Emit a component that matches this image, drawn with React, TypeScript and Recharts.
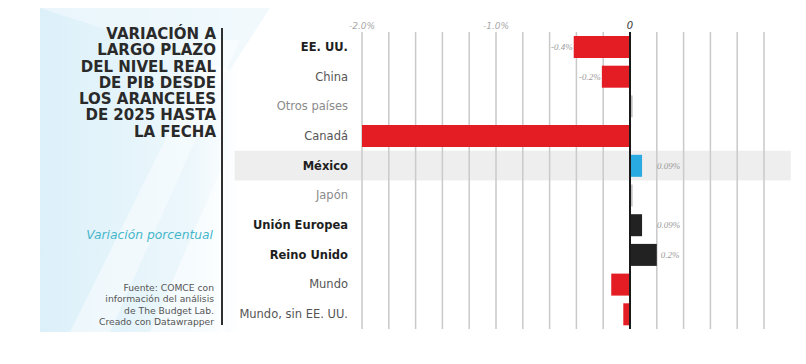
import React from 'react';
import { BarChart, Bar, XAxis, YAxis, CartesianGrid, ReferenceLine, ReferenceArea, Cell, LabelList } from 'recharts';

const categories = ['EE. UU.', 'China', 'Otros países', 'Canadá', 'México', 'Japón', 'Unión Europea', 'Reino Unido', 'Mundo', 'Mundo, sin EE. UU.'];
const values = [-0.42, -0.21, 0.02, -2.0, 0.09, 0.02, 0.09, 0.2, -0.14, -0.05];
const valueLabels = ['-0.4%', '-0.2%', '', '', '0.09%', '', '0.09%', '0.2%', '', ''];
const barColors = ['#e41c24', '#e41c24', '#c4c4c4', '#e41c24', '#29abe2', '#c4c4c4', '#222222', '#222222', '#e41c24', '#e41c24'];
const boldCategories = ['EE. UU.', 'México', 'Unión Europea', 'Reino Unido'];
const mutedCategories = ['Otros países', 'Japón'];
const highlightCategory = 'México';
const gridTicks = [-2, -1.8, -1.6, -1.4, -1.2, -1, -0.8, -0.6, -0.4, -0.2, 0, 0.2, 0.4, 0.6, 0.8, 1];
const labeledTicks = [-2, -1, 0];
const labeledTickText = ['-2.0%', '-1.0%', '0'];

const titleLines = ['VARIACIÓN A', 'LARGO PLAZO', 'DEL NIVEL REAL', 'DE PIB DESDE', 'LOS ARANCELES', 'DE 2025 HASTA', 'LA FECHA'];
const subtitle = 'Variación porcentual';
const sourceLines = ['Fuente: COMCE con', 'información del análisis', 'de The Budget Lab.', 'Creado con Datawrapper'];

const data = categories.map((c, i) => ({ name: c, value: values[i], label: valueLabels[i] }));

const FONT = '"DejaVu Sans", sans-serif';

const YTick = (props: any) => {
  const { x, y, payload } = props;
  const name = payload.value as string;
  const bold = boldCategories.includes(name);
  const muted = mutedCategories.includes(name);
  return (
    <text x={x} y={y} textAnchor="end" dominantBaseline="central" fontFamily={FONT} fontSize={11.5}
      fontWeight={bold ? 700 : 400} fill={bold ? '#1e1e1e' : muted ? '#8a8a8a' : '#555555'}>
      {name}
    </text>
  );
};

const XTick = (props: any) => {
  const { x, y, payload } = props;
  const idx = labeledTicks.indexOf(payload.value);
  if (idx < 0) return <g />;
  const isZero = payload.value === 0;
  return (
    <text x={x} y={y} textAnchor="middle" fontFamily={FONT} fontStyle="italic" fontSize={isZero ? 10 : 9}
      fill={isZero ? '#333333' : '#a8a8a8'}>
      {labeledTickText[idx]}
    </text>
  );
};

const ValueLabel = (props: any) => {
  const { x, y, width, height, value } = props;
  if (!value) return null;
  const left = Math.min(x, x + width);
  const right = Math.max(x, x + width);
  const cy = y + height / 2;
  const neg = String(value).startsWith('-');
  const common = { fontFamily: '"Liberation Serif", serif', fontStyle: 'italic' as const, fontSize: 9, fill: '#9a9a9a', dominantBaseline: 'central' as const };
  if (neg) {
    return <text x={left - 1} y={cy} textAnchor="end" {...common}>{value}</text>;
  }
  return <text x={Math.max(right + 4, x + 27)} y={cy} textAnchor="start" {...common}>{value}</text>;
};

export default function App() {
  return (
    <div style={{ position: 'absolute', left: 0, top: 0, width: 806, height: 364, background: '#ffffff', overflow: 'hidden' }}>
      <svg width={806} height={364} style={{ position: 'absolute', left: 0, top: 0 }}>
        <defs>
          <linearGradient id="panelGrad" x1="0" y1="0" x2="1" y2="0">
            <stop offset="0" stopColor="#dcf0f9" />
            <stop offset="0.75" stopColor="#ecf7fc" />
            <stop offset="1" stopColor="#ffffff" />
          </linearGradient>
        </defs>
        <rect x={40} y={8} width={200} height={324} fill="url(#panelGrad)" />
        <polygon points="40,8 270,8 230,70" fill="#eef8fd" opacity={0.8} />
        <polygon points="70,332 110,332 240,40 215,40" fill="#ffffff" opacity={0.45} />
        <polygon points="150,332 225,332 225,160" fill="#ffffff" opacity={0.5} />
      </svg>
      <div style={{ position: 'absolute', left: 0, top: 26, width: 216, textAlign: 'right', fontFamily: FONT, fontWeight: 700, fontSize: 15, lineHeight: '16.3px', color: '#2a2a2a' }}>
        {titleLines.map((l) => <div key={l}>{l}</div>)}
      </div>
      <div style={{ position: 'absolute', left: 221, top: 28, width: 2, height: 297, background: '#2f2f2f' }} />
      <div style={{ position: 'absolute', left: 0, top: 228, width: 213, textAlign: 'right', fontFamily: FONT, fontStyle: 'italic', fontSize: 12.3, lineHeight: '15px', color: '#45b6ca' }}>
        {subtitle}
      </div>
      <div style={{ position: 'absolute', left: 0, top: 282, width: 214, textAlign: 'right', fontFamily: FONT, fontSize: 9.2, lineHeight: '11.3px', color: '#555555' }}>
        {sourceLines.map((l) => <div key={l}>{l}</div>)}
      </div>
      <BarChart width={806} height={364} data={data} layout="vertical"
        margin={{ top: 2, right: 42, bottom: 35, left: 0 }}
        style={{ position: 'absolute', left: 0, top: 0 }}>
        <ReferenceArea y1={highlightCategory} y2={highlightCategory} x1={-2.95} x2={1.2} ifOverflow="visible"
          fill="#cfcfcf" fillOpacity={0.35} stroke="none" />
        <CartesianGrid horizontal={false} vertical stroke="#c9c9c9" strokeWidth={1.5} />
        <XAxis type="number" orientation="top" domain={[-2, 1]} ticks={gridTicks} height={30}
          axisLine={false} tickLine={false} tickSize={0} tickMargin={3} tick={<XTick />} interval={0} allowDataOverflow />
        <YAxis type="category" dataKey="name" width={362} axisLine={false} tickLine={false} tickSize={0} tickMargin={14}
          tick={<YTick />} interval={0} />
        <Bar dataKey="value" barSize={22} isAnimationActive={false}>
          {data.map((d, i) => <Cell key={d.name} fill={barColors[i]} />)}
          <LabelList dataKey="label" content={<ValueLabel />} />
        </Bar>
        <ReferenceLine x={0} stroke="#1a1a1a" strokeWidth={2} />
      </BarChart>
    </div>
  );
}
